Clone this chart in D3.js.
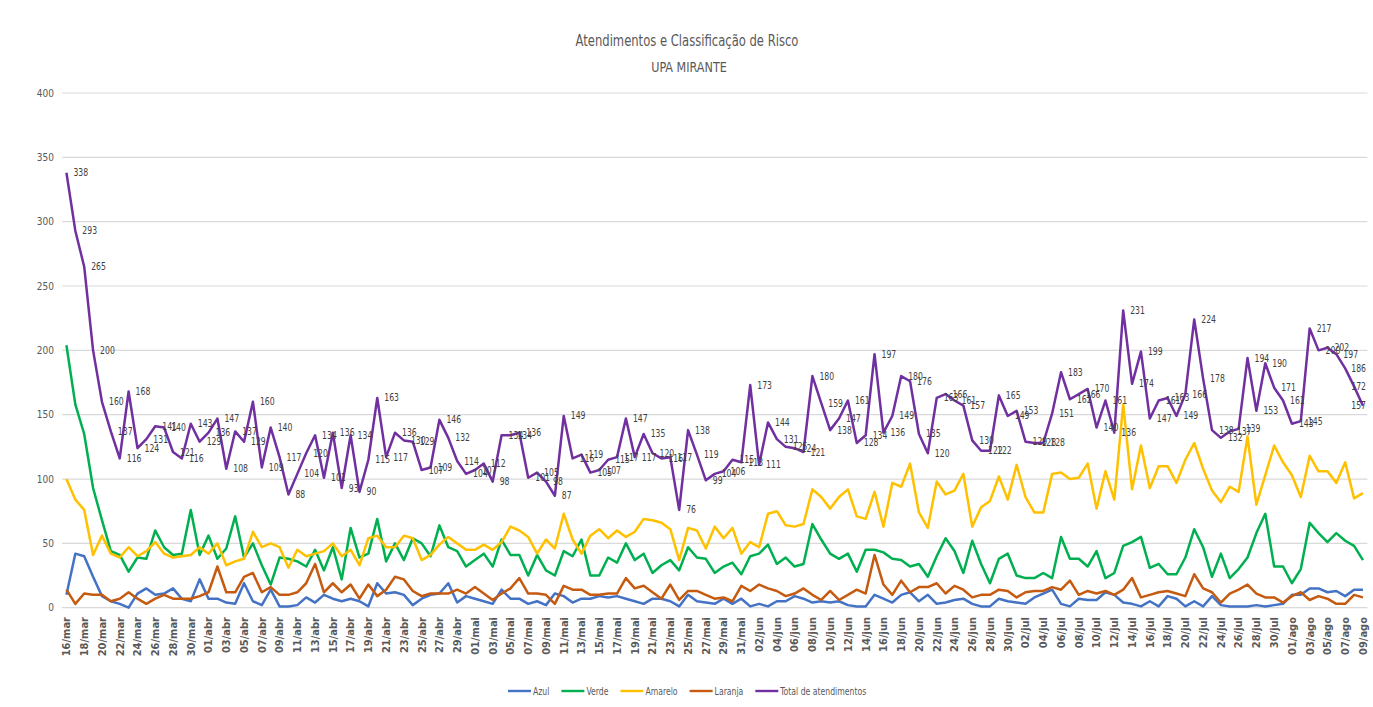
<!DOCTYPE html>
<html>
<head>
<meta charset="utf-8">
<script src="https://cdn.jsdelivr.net/npm/d3@7"></script>
<style>
  body { margin: 0; background: #fff; }
  svg { display: block; }
  text { font-family: "Liberation Sans Narrow", "DejaVu Sans Condensed", "Liberation Sans", sans-serif; }
</style>
</head>
<body>
<svg id="chart"></svg>
<script>
// dias de 16/mar a 09/ago
var START_DAY = new Date(2020, 2, 16);
var END_DAY = new Date(2020, 7, 10);
var MONTHS = ["jan","fev","mar","abr","mai","jun","jul","ago","set","out","nov","dez"];
var Y_TICKS = [0, 50, 100, 150, 200, 250, 300, 350, 400];

var azul = [10,42,40,24,9,5,3,0,11,15,10,11,15,7,5,22,7,7,4,
  3,19,5,2,14,1,1,2,8,4,10,7,5,7,5,1,19,11,12,
  10,2,7,10,11,19,4,9,7,5,3,14,7,7,3,5,2,11,
  9,4,7,7,9,8,9,7,5,3,7,7,5,1,10,5,4,3,
  7,3,7,1,3,1,5,5,9,7,4,5,4,5,2,1,1,10,7,
  4,10,12,5,10,3,4,6,7,3,1,1,7,5,4,3,8,11,14,
  3,1,7,6,6,12,10,4,3,1,5,1,9,7,1,5,1,9,2,
  1,1,1,2,1,2,3,10,10,15,15,12,13,9,14,14];

var verde = [204,158,135,93,68,44,41,28,39,38,60,47,41,42,76,41,56,38,46,
  71,39,50,33,18,39,38,36,32,45,29,47,22,62,39,42,69,36,50,
  37,54,50,40,64,47,44,32,37,42,32,53,41,41,25,41,29,25,
  44,40,53,25,25,39,35,50,37,42,27,33,37,29,47,39,38,27,
  32,35,26,40,42,49,34,39,32,34,65,53,42,38,42,28,45,45,43,
  38,37,32,34,24,40,54,44,27,52,34,19,38,42,25,23,23,27,23,
  55,38,38,32,44,23,27,48,51,55,31,34,26,26,39,61,47,24,42,
  23,30,39,58,73,32,32,19,30,66,58,51,58,52,48,37];

var amarelo = [100,84,76,41,56,42,39,47,40,44,51,42,39,40,41,47,42,50,33,
  36,38,59,47,50,47,31,45,40,42,44,50,40,45,33,54,56,47,47,
  56,54,37,41,49,55,50,45,45,49,45,51,63,60,55,42,53,46,
  73,53,42,56,61,54,60,55,59,69,68,66,61,37,62,60,46,63,
  54,62,42,51,47,73,75,64,63,65,92,86,77,86,92,71,69,90,63,
  97,94,112,74,62,98,88,91,104,63,78,83,102,84,111,86,74,74,104,
  105,100,101,112,77,106,84,158,92,126,93,110,110,97,115,128,108,91,82,
  94,90,133,80,103,126,113,103,86,118,106,106,97,113,85,89];

var laranja = [14,3,11,10,10,5,7,12,7,3,7,10,7,7,7,9,12,32,12,
  12,24,27,12,16,10,10,12,19,34,12,19,12,18,7,18,9,14,24,
  22,13,9,11,11,11,14,11,16,11,6,11,15,23,11,11,10,3,
  17,14,14,10,10,11,11,23,15,17,12,7,18,6,13,13,10,7,
  8,5,17,13,18,15,13,9,11,15,10,6,13,6,10,14,11,41,18,
  10,21,12,16,16,19,11,17,14,8,10,10,14,13,8,12,13,13,16,
  14,21,10,13,11,13,10,14,23,8,10,12,13,11,9,26,15,12,4,
  11,14,18,11,8,8,4,9,12,6,9,7,3,3,10,8];

var total = [338,293,265,200,160,137,116,168,124,131,141,140,121,116,143,129,136,147,108,
  137,129,160,109,140,117,88,104,120,134,101,136,93,134,90,115,163,117,136,
  130,129,107,109,146,132,114,104,107,112,98,134,134,136,101,105,98,87,
  149,116,119,105,107,115,117,147,117,135,120,116,117,76,138,119,99,104,
  106,115,113,173,111,144,131,125,124,121,180,159,138,147,161,128,134,197,136,
  149,180,176,135,120,163,166,161,157,130,122,122,165,149,153,129,128,128,151,
  183,162,166,170,140,161,136,231,174,199,147,161,163,149,166,224,178,138,132,
  137,139,194,153,190,171,161,143,145,217,200,202,197,186,172,157];

var seriesNames = ["Azul", "Verde", "Amarelo", "Laranja", "Total de atendimentos"];
var seriesValues = [azul, verde, amarelo, laranja, total];
var seriesColors = ["#4472C4", "#00B050", "#FFC000", "#C55A11", "#7030A0"];

var fmtDay = d3.timeFormat("%d");
var categories = d3.timeDay.range(START_DAY, END_DAY).map(function(d) {
  return fmtDay(d) + "/" + MONTHS[d.getMonth()];
});

var w = 1373, h = 707;
var NARROW = 0.86; // fonte condensada
var svg = d3.select("#chart").attr("width", w).attr("height", h);

var xScale = d3.scaleBand().domain(categories).range([62, 1367.4]);
var yScale = d3.scaleLinear().domain([0, 400]).range([607.7, 93]);
function cx(i) { return xScale(categories[i]) + xScale.bandwidth() / 2; }

function narrowText(g, x, y) {
  return g.append("text").attr("transform", "translate(" + x + "," + y + ") scale(" + NARROW + ",1)");
}

// titulo
narrowText(svg, 687, 46).attr("text-anchor", "middle")
  .attr("font-size", 15).attr("fill", "#595959").text("Atendimentos e Classificação de Risco");
narrowText(svg, 689, 72).attr("text-anchor", "middle")
  .attr("font-size", 14.5).attr("fill", "#595959").text("UPA MIRANTE");

// grade
svg.append("g").selectAll("line").data(Y_TICKS).enter().append("line")
  .attr("x1", 62).attr("x2", 1367.4)
  .attr("y1", function(d) { return yScale(d); })
  .attr("y2", function(d) { return yScale(d); })
  .attr("stroke", "#d9d9d9").attr("stroke-width", 1.2);

var yAxis = svg.append("g").attr("transform", "translate(56,0)")
  .call(d3.axisLeft(yScale).tickValues(Y_TICKS).tickSize(0).tickPadding(2));
yAxis.select(".domain").remove();
yAxis.selectAll("text").attr("font-size", 10).attr("fill", "#595959")
  .style("font-family", null);

var xAxis = svg.append("g").attr("transform", "translate(0,613)")
  .call(d3.axisBottom(xScale)
    .tickValues(categories.filter(function(c, i) { return i % 2 === 0; }))
    .tickSize(0));
xAxis.select(".domain").remove();
xAxis.selectAll("text")
  .attr("transform", "rotate(-90)")
  .attr("text-anchor", "end")
  .attr("x", -4).attr("y", 0).attr("dy", "0.35em")
  .attr("font-size", 11).attr("font-weight", "bold").attr("fill", "#595959")
  .style("font-family", null);

// linhas
var line = d3.line()
  .x(function(d, i) { return cx(i); })
  .y(function(d) { return yScale(d); });

svg.append("g").selectAll("path").data(seriesValues).enter().append("path")
  .attr("d", line)
  .attr("fill", "none")
  .attr("stroke", function(d, i) { return seriesColors[i]; })
  .attr("stroke-width", 2.5)
  .attr("stroke-linejoin", "round");

// rotulos do total
var labels = svg.append("g");
total.forEach(function(v, i) {
  var atEdge = i >= total.length - 3;
  narrowText(labels, atEdge ? 1366 : cx(i) + 7, yScale(v) + 3.5)
    .attr("text-anchor", atEdge ? "end" : "start")
    .attr("font-size", 10).attr("fill", "#404040")
    .text(v);
});

// legenda
var legend = svg.append("g").attr("transform", "translate(508,691)");
var lx = 0;
seriesNames.forEach(function(name, i) {
  legend.append("line").attr("x1", lx).attr("x2", lx + 23)
    .attr("stroke", seriesColors[i]).attr("stroke-width", 2.4);
  var t = narrowText(legend, lx + 25, 3.5)
    .attr("font-size", 10).attr("fill", "#595959").text(name);
  lx += 25 + t.node().getComputedTextLength() * NARROW + 12;
});
</script>
</body>
</html>
